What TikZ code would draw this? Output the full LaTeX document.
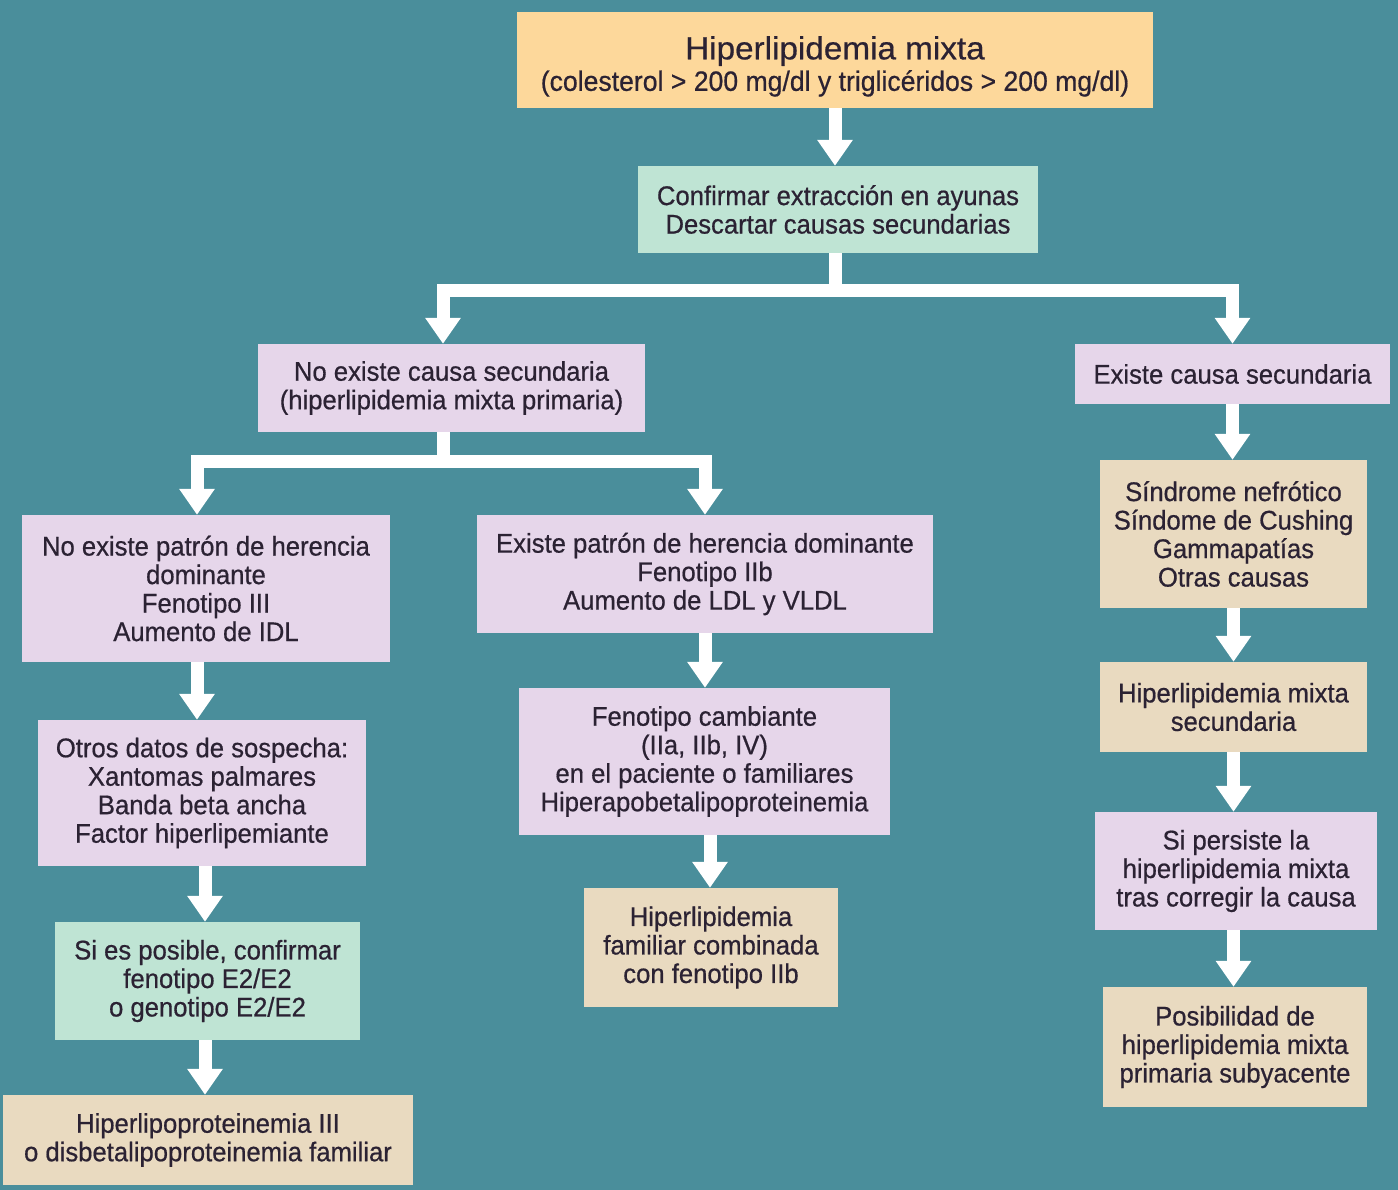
\documentclass[tikz,border=0pt]{standalone}
\usepackage{fontspec}
\setmainfont{Liberation Sans}[FakeStretch=0.95, FakeBold=0.6]
\newfontfamily\titlefont{Liberation Sans}[FakeStretch=1.04, FakeBold=0.6]
\usetikzlibrary{arrows.meta}
\definecolor{bg}{HTML}{4A8E9B}
\definecolor{corange}{HTML}{FDD89B}
\definecolor{cgreen}{HTML}{BFE4D4}
\definecolor{cpink}{HTML}{E6D6EA}
\definecolor{ctan}{HTML}{E9DAC0}
\definecolor{txt}{HTML}{2B2233}
\tikzset{
  box/.style={draw=none, inner sep=0pt, align=center, text=txt,
    font=\fontsize{27}{28.5}\selectfont},
  arr/.style={draw=white, line width=13pt, line join=miter,
    -{Triangle[width=34pt,length=26pt]}},
  bar/.style={draw=white, line width=13pt, line join=miter}
}
\begin{document}
\begin{tikzpicture}[x=1pt,y=-1pt]
\path[fill=bg] (0,0) rectangle (1398,1190);
\useasboundingbox (0,0) rectangle (1398,1190);

\node[box, fill=corange, minimum width=636pt, minimum height=96pt] (top) at (835,60)
  {{\titlefont\fontsize{32}{32}\selectfont\rule{0pt}{36pt}Hiperlipidemia mixta}\\[3pt]{\fontsize{28}{28}\selectfont (colesterol > 200 mg/dl y triglicéridos > 200 mg/dl)}};
\node[box, fill=cgreen, minimum width=400pt, minimum height=87pt] (conf) at (838,209.5)
  {Confirmar extracción en ayunas\\Descartar causas secundarias};
\node[box, fill=cpink, minimum width=387pt, minimum height=88pt] (noex) at (451.5,388)
  {No existe causa secundaria\\(hiperlipidemia mixta primaria)};
\node[box, fill=cpink, minimum width=315pt, minimum height=60pt] (excausa) at (1232.5,374)
  {Existe causa secundaria};
\node[box, fill=cpink, minimum width=368pt, minimum height=147pt] (nopat) at (206,588.5)
  {No existe patrón de herencia\\dominante\\Fenotipo III\\Aumento de IDL};
\node[box, fill=cpink, minimum width=456pt, minimum height=118pt] (expat) at (705,574)
  {Existe patrón de herencia dominante\\Fenotipo IIb\\Aumento de LDL y VLDL};
\node[box, fill=cpink, minimum width=328pt, minimum height=146pt] (otros) at (202,793)
  {Otros datos de sospecha:\\Xantomas palmares\\Banda beta ancha\\Factor hiperlipemiante};
\node[box, fill=cgreen, minimum width=305pt, minimum height=118pt] (sies) at (207.5,981)
  {Si es posible, confirmar\\fenotipo E2/E2\\o genotipo E2/E2};
\node[box, fill=ctan, minimum width=410pt, minimum height=90pt] (hip3) at (208,1140)
  {Hiperlipoproteinemia III\\o disbetalipoproteinemia familiar};
\node[box, fill=cpink, minimum width=371pt, minimum height=147pt] (fencamb) at (704.5,761.5)
  {Fenotipo cambiante\\(IIa, IIb, IV)\\en el paciente o familiares\\Hiperapobetalipoproteinemia};
\node[box, fill=ctan, minimum width=254pt, minimum height=119pt] (hipfam) at (711,947.5)
  {Hiperlipidemia\\familiar combinada\\con fenotipo IIb};
\node[box, fill=ctan, minimum width=267pt, minimum height=148pt] (sindr) at (1233.5,534)
  {Síndrome nefrótico\\Síndome de Cushing\\Gammapatías\\Otras causas};
\node[box, fill=ctan, minimum width=267pt, minimum height=90pt] (hipsec) at (1233.5,707)
  {Hiperlipidemia mixta\\secundaria};
\node[box, fill=cpink, minimum width=282pt, minimum height=118pt] (sipers) at (1236,871)
  {Si persiste la\\hiperlipidemia mixta\\tras corregir la causa};
\node[box, fill=ctan, minimum width=264pt, minimum height=120pt] (posib) at (1235,1047)
  {Posibilidad de\\hiperlipidemia mixta\\primaria subyacente};

% connectors
\draw[arr] (top.south) -- (top.south |- conf.north);
\draw[bar] ([xshift=-3pt]conf.south) -- ++(0,37) coordinate (b1);
\coordinate (t1) at ([xshift=-8.5pt]noex.north);
\draw[arr] (b1) -| (t1);
\draw[arr] (b1) -| (excausa.north);
\draw[bar] ([xshift=-8.5pt]noex.south) -- ++(0,29) coordinate (b2);
\coordinate (t2) at ([xshift=-9pt]nopat.north);
\draw[arr] (b2) -| (t2);
\draw[arr] (b2) -| (expat.north);
\draw[arr] (t2 |- nopat.south) -- (t2 |- otros.north);
\draw[arr] ([xshift=3pt]otros.south) -- ([xshift=3pt]otros.south |- sies.north);
\draw[arr] ([xshift=-2.5pt]sies.south) -- ([xshift=-2.5pt]sies.south |- hip3.north);
\draw[arr] (expat.south) -- (expat.south |- fencamb.north);
\draw[arr] ([xshift=5.5pt]fencamb.south) -- ([xshift=5.5pt]fencamb.south |- hipfam.north);
\draw[arr] (excausa.south) -- (excausa.south |- sindr.north);
\draw[arr] (sindr.south) -- (sindr.south |- hipsec.north);
\draw[arr] (hipsec.south) -- (hipsec.south |- sipers.north);
\draw[arr] ([xshift=-2.5pt]sipers.south) -- ([xshift=-2.5pt]sipers.south |- posib.north);
\end{tikzpicture}
\end{document}
